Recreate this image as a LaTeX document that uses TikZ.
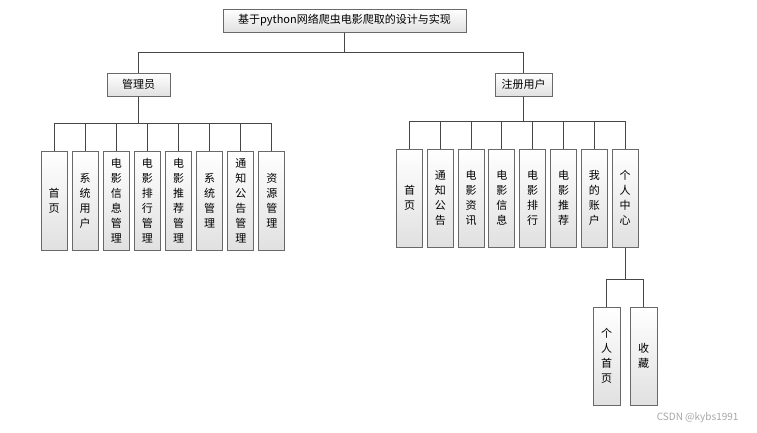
\documentclass[tikz,border=0pt]{standalone}
\usepackage{fontspec}
\setmainfont{Noto Sans CJK SC}
\usetikzlibrary{positioning}
\definecolor{boxedge}{RGB}{105,105,105}
\definecolor{linegray}{RGB}{70,70,70}

\begin{document}
\begin{tikzpicture}[x=1bp, y=-1bp,
  every node/.style={font=\fontsize{11bp}{15bp}\selectfont},
  box/.style={draw=boxedge, line width=1bp, top color=white, bottom color=black!12, inner sep=0pt, minimum height=23bp},
  vbox/.style={box, minimum width=26bp, minimum height=99bp, text width=1.2em, align=center},
  link/.style={draw=linegray, line width=1bp}]
  \useasboundingbox (0,0) rectangle (757,432);

  % top level
  \node[box, minimum width=243bp] (title) at (344.5,20.5) {基于python网络爬虫电影爬取的设计与实现};
  \node[box, minimum width=63bp] (admin) at (138.5,84.5) {管理员};
  \node[box, minimum width=57bp] (user) at (523.5,84.5) {注册用户};
  \coordinate (tbus) at (0,52);
  \coordinate (abus) at (0,123);
  \coordinate (ubus) at (0,121);
  \coordinate (pbus) at (0,279);

  \draw[link] (title.south) -- (title.south |- tbus) -| (admin.north);
  \draw[link] (title.south) -- (title.south |- tbus) -| (user.north);

  % admin modules
  \foreach \txt [count=\i] in {{首\\页},{系\\统\\用\\户},{电\\影\\信\\息\\管\\理},{电\\影\\排\\行\\管\\理},
      {电\\影\\推\\荐\\管\\理},{系\\统\\管\\理},{通\\知\\公\\告\\管\\理},{资\\源\\管\\理}} {
    \node[vbox] (a\i) at ({22.86+31.14*\i},200.5) {\txt};
    \draw[link] (admin.south) -- (admin.south |- abus) -| (a\i.north);
  }

  % user modules
  \foreach \txt [count=\i] in {{首\\页},{通\\知\\公\\告},{电\\影\\资\\讯},{电\\影\\信\\息},
      {电\\影\\排\\行},{电\\影\\推\\荐},{我\\的\\账\\户},{个\\人\\中\\心}} {
    \node[vbox, minimum height=98bp] (u\i) at ({378.7+30.8*\i},198) {\txt};
    \draw[link] (user.south) -- (user.south |- ubus) -| (u\i.north);
  }

  % personal centre
  \node[vbox, minimum width=27bp, minimum height=98bp] (p1) at (606.5,356) {个\\人\\首\\页};
  \node[vbox, minimum width=27bp, minimum height=98bp] (p2) at (643.5,356) {收\\藏};
  \draw[link] (u8.south) -- (u8.south |- pbus) -| (p1.north);
  \draw[link] (u8.south) -- (u8.south |- pbus) -| (p2.north);

  \node[text=black!35, font=\fontsize{10bp}{12bp}\selectfont, anchor=east] (mark) at (742,418) {CSDN @kybs1991};
\end{tikzpicture}
\end{document}
